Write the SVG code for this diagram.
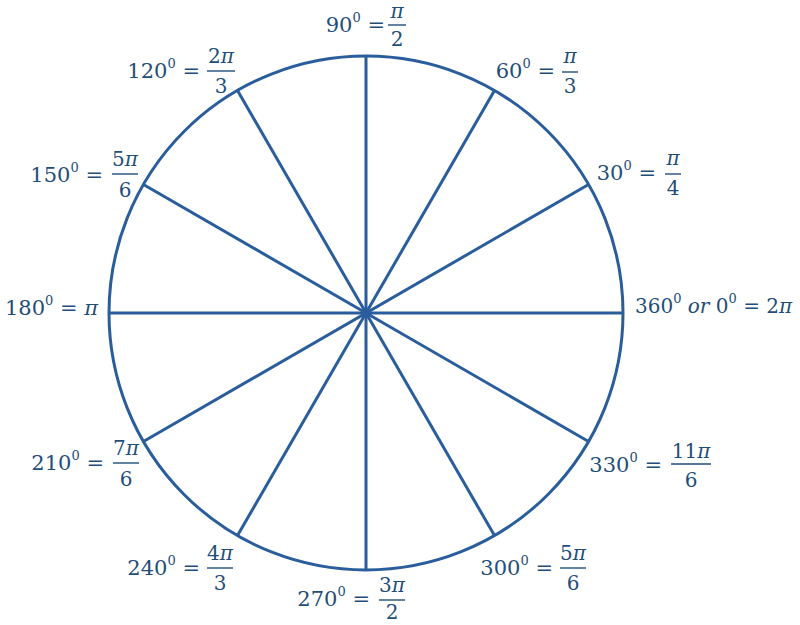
<svg xmlns="http://www.w3.org/2000/svg" width="800" height="625" viewBox="0 0 800 625">
<style>
.ln{stroke:#2A5D9B;stroke-width:3;fill:none;stroke-linecap:butt}
.t{font-family:"DejaVu Serif","Liberation Serif",serif;font-size:21px;fill:#1F4E79}
.f{font-family:"DejaVu Serif","Liberation Serif",serif;font-size:20px;fill:#1F4E79;text-anchor:middle}
.e{text-anchor:end}
.s{font-size:13px}
.i{font-style:italic}
.bar{stroke:#1F4E79;stroke-width:1.4}
</style>
<rect width="800" height="625" fill="#ffffff"/>
<g id="connectors">
<circle class="ln" cx="366" cy="313" r="257"/>
<line class="ln" x1="109" y1="313" x2="623" y2="313"/>
<line class="ln" x1="366" y1="56" x2="366" y2="570"/>
<line class="ln" x1="588.57" y1="184.5" x2="143.43" y2="441.5"/>
<line class="ln" x1="494.5" y1="90.43" x2="237.5" y2="535.57"/>
<line class="ln" x1="237.5" y1="90.43" x2="494.5" y2="535.57"/>
<line class="ln" x1="143.43" y1="184.5" x2="588.57" y2="441.5"/>
</g>
<g id="label-90">
<text class="t e" x="385" y="32">90<tspan class="s" dy="-10">0</tspan><tspan dy="10"> =</tspan></text>
<text class="f i" x="397" y="18">π</text><line class="bar" x1="388" y1="25" x2="406" y2="25"/><text class="f" x="397" y="46">2</text>
</g>
<g id="label-120">
<text class="t e" x="200" y="78">120<tspan class="s" dy="-10">0</tspan><tspan dy="10"> =</tspan></text>
<text class="f" x="221" y="63">2<tspan class="i">π</tspan></text><line class="bar" x1="207" y1="71" x2="235" y2="71"/><text class="f" x="221" y="93">3</text>
</g>
<g id="label-60">
<text class="t e" x="555" y="78">60<tspan class="s" dy="-10">0</tspan><tspan dy="10"> =</tspan></text>
<text class="f i" x="570" y="63">π</text><line class="bar" x1="562" y1="72" x2="578" y2="72"/><text class="f" x="570" y="93">3</text>
</g>
<g id="label-150">
<text class="t e" x="103" y="182">150<tspan class="s" dy="-10">0</tspan><tspan dy="10"> =</tspan></text>
<text class="f" x="125" y="166">5<tspan class="i">π</tspan></text><line class="bar" x1="112" y1="174" x2="138" y2="174"/><text class="f" x="125" y="197">6</text>
</g>
<g id="label-30">
<text class="t e" x="656" y="180">30<tspan class="s" dy="-10">0</tspan><tspan dy="10"> =</tspan></text>
<text class="f i" x="673" y="165">π</text><line class="bar" x1="665" y1="174" x2="681" y2="174"/><text class="f" x="673" y="195">4</text>
</g>
<g id="label-180">
<text class="t" x="5" y="315">180<tspan class="s" dy="-10">0</tspan><tspan dy="10"> = </tspan><tspan class="i">π</tspan></text>
</g>
<g id="label-360">
<text class="t" x="635" y="313" style="font-size:20px">360<tspan class="s" dy="-10">0</tspan><tspan dy="10"> </tspan><tspan class="i">or</tspan> 0<tspan class="s" dy="-10">0</tspan><tspan dy="10"> = 2</tspan><tspan class="i">π</tspan></text>
</g>
<g id="label-210">
<text class="t e" x="104" y="470">210<tspan class="s" dy="-10">0</tspan><tspan dy="10"> =</tspan></text>
<text class="f" x="126" y="455">7<tspan class="i">π</tspan></text><line class="bar" x1="113" y1="463" x2="139" y2="463"/><text class="f" x="126" y="486">6</text>
</g>
<g id="label-330">
<text class="t e" x="662" y="472">330<tspan class="s" dy="-10">0</tspan><tspan dy="10"> =</tspan></text>
<text class="f" x="691" y="458">11<tspan class="i">π</tspan></text><line class="bar" x1="671" y1="464" x2="711" y2="464"/><text class="f" x="691" y="487">6</text>
</g>
<g id="label-240">
<text class="t e" x="200" y="575">240<tspan class="s" dy="-10">0</tspan><tspan dy="10"> =</tspan></text>
<text class="f" x="220" y="560">4<tspan class="i">π</tspan></text><line class="bar" x1="207" y1="568" x2="233" y2="568"/><text class="f" x="220" y="590">3</text>
</g>
<g id="label-300">
<text class="t e" x="553" y="575">300<tspan class="s" dy="-10">0</tspan><tspan dy="10"> =</tspan></text>
<text class="f" x="573" y="560">5<tspan class="i">π</tspan></text><line class="bar" x1="560" y1="568" x2="586" y2="568"/><text class="f" x="573" y="590">6</text>
</g>
<g id="label-270">
<text class="t e" x="370" y="606">270<tspan class="s" dy="-10">0</tspan><tspan dy="10"> =</tspan></text>
<text class="f" x="392" y="592">3<tspan class="i">π</tspan></text><line class="bar" x1="379" y1="600" x2="405" y2="600"/><text class="f" x="392" y="619">2</text>
</g>
</svg>
